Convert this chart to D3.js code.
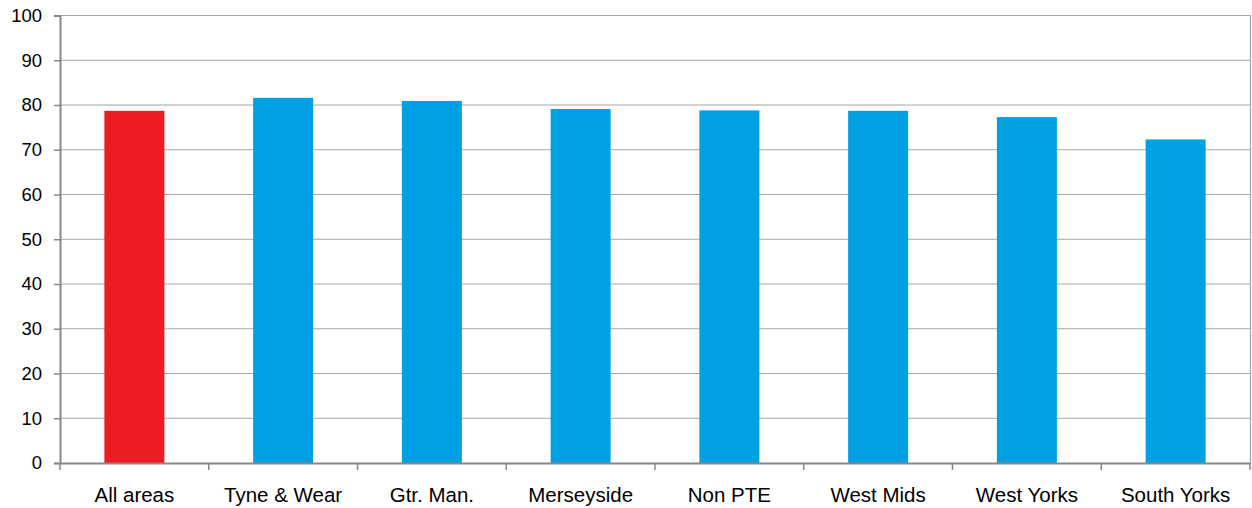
<!DOCTYPE html>
<html>
<head>
<meta charset="utf-8">
<script src="https://cdn.jsdelivr.net/npm/d3@7"></script>
<style>
  html, body { margin: 0; padding: 0; background: #fff; }
  svg { display: block; font-family: "Liberation Sans", Arial, sans-serif; }
</style>
</head>
<body>
<svg id="chart" width="1252" height="508"></svg>
<script>
// Areas and their percentage values
const categories = ["All areas", "Tyne & Wear", "Gtr. Man.", "Merseyside", "Non PTE", "West Mids", "West Yorks", "South Yorks"];
const values = [78.7, 81.6, 80.9, 79.1, 78.8, 78.7, 77.3, 72.3];
const yTicks = [0, 10, 20, 30, 40, 50, 60, 70, 80, 90, 100];

(function () {
  const svg = d3.select("#chart");
  const plotLeft = 60, plotRight = 1250, plotTop = 15.5, plotBottom = 463;

  const x = d3.scaleBand().domain(categories).range([plotLeft, plotRight]).paddingInner(0).paddingOuter(0);
  const y = d3.scaleLinear().domain([0, 100]).range([plotBottom, plotTop]);
  const barW = 60;

  // horizontal gridlines
  svg.append("g").selectAll("line").data(yTicks.filter(d => d > 0 && d < 100)).join("line")
    .attr("x1", plotLeft).attr("x2", plotRight)
    .attr("y1", d => y(d)).attr("y2", d => y(d))
    .attr("stroke", "#a6a6a6").attr("stroke-width", 1.2);

  // plot area border (top and right)
  svg.append("path")
    .attr("d", `M${plotLeft},${y(100)}H${plotRight + 0.5}V${plotBottom}`)
    .attr("fill", "none").attr("stroke", "#8ea9d6").attr("stroke-width", 1.2);

  // bars
  svg.append("g").selectAll("rect").data(categories).join("rect")
    .attr("x", d => x(d) + x.bandwidth() / 2 - barW / 2)
    .attr("width", barW)
    .attr("y", (d, i) => y(values[i]))
    .attr("height", (d, i) => y(0) - y(values[i]))
    .attr("fill", (d, i) => i === 0 ? "#ed1c24" : "#00a0e2");

  // y axis
  const yAxis = svg.append("g").attr("transform", `translate(${plotLeft},0)`)
    .call(d3.axisLeft(y).tickValues(yTicks).tickSize(6).tickPadding(12));
  yAxis.select(".domain").attr("stroke", "#878787").attr("stroke-width", 2);
  yAxis.selectAll(".tick line").attr("stroke", "#878787").attr("stroke-width", 1.5);
  yAxis.selectAll(".tick text").attr("fill", "#000").attr("font-size", 18.5).attr("font-family", "Liberation Sans, Arial, sans-serif");

  // x axis
  const xAxis = svg.append("g").attr("transform", `translate(0,${plotBottom})`)
    .call(d3.axisBottom(x).tickSize(0).tickPadding(24));
  xAxis.select(".domain").attr("stroke", "#878787").attr("stroke-width", 2);
  xAxis.selectAll(".tick text").attr("fill", "#000").attr("font-size", 20.5).attr("font-family", "Liberation Sans, Arial, sans-serif");

  // category separators below the baseline
  const seps = categories.map(c => x(c)).concat([plotRight]);
  svg.append("g").selectAll("line").data(seps).join("line")
    .attr("x1", d => d).attr("x2", d => d)
    .attr("y1", plotBottom).attr("y2", plotBottom + 7)
    .attr("stroke", "#878787").attr("stroke-width", 1.5);
})();
</script>
</body>
</html>
